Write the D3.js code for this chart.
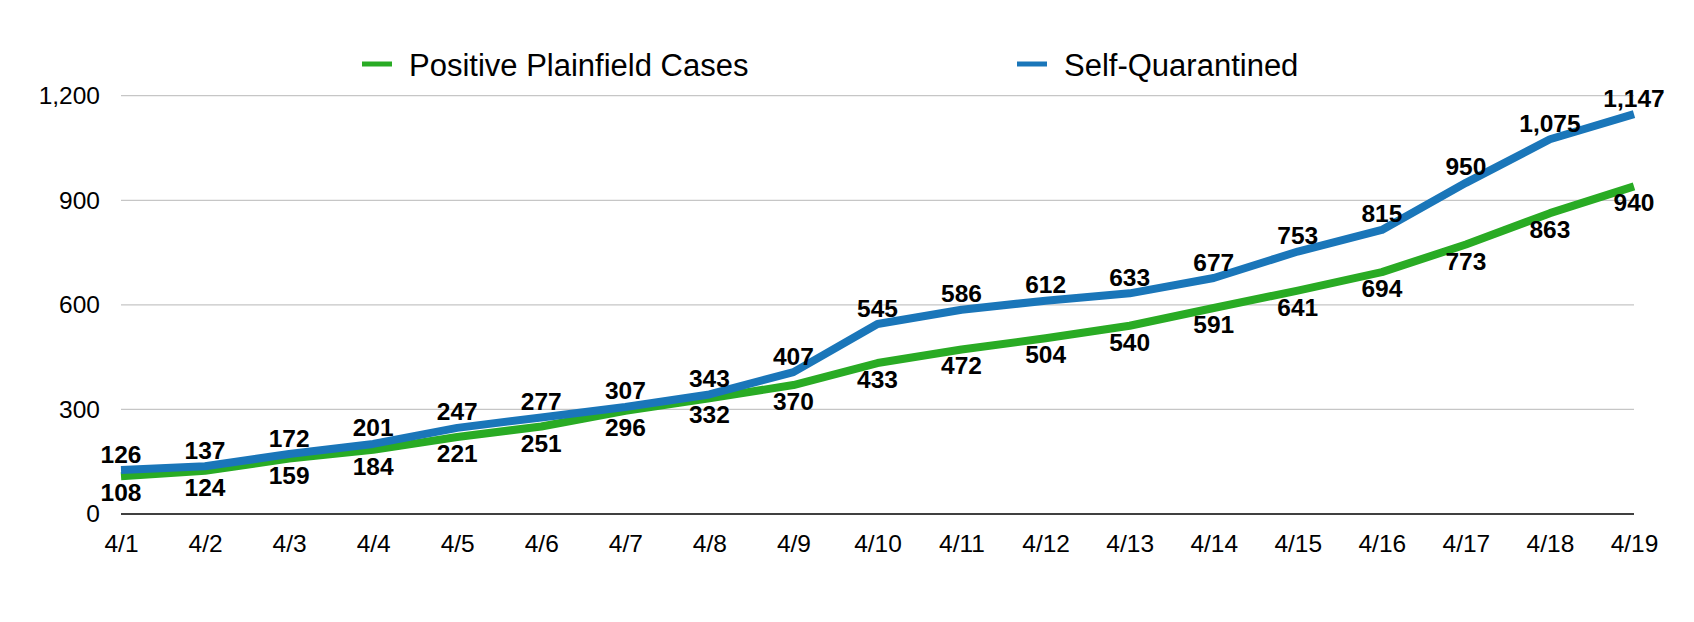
<!DOCTYPE html>
<html>
<head>
<meta charset="utf-8">
<script src="https://cdn.jsdelivr.net/npm/d3@7"></script>
<style>
  html, body { margin: 0; padding: 0; background: #fff; }
  svg { display: block; font-family: Helvetica, "Liberation Sans", Arial, sans-serif; }
</style>
</head>
<body>
<svg id="chart" width="1694" height="622"></svg>
<script>
const dates = ["4/1","4/2","4/3","4/4","4/5","4/6","4/7","4/8","4/9","4/10","4/11","4/12","4/13","4/14","4/15","4/16","4/17","4/18","4/19"];
const positiveCases = [108,124,159,184,221,251,296,332,370,433,472,504,540,591,641,694,773,863,940];
const selfQuarantined = [126,137,172,201,247,277,307,343,407,545,586,612,633,677,753,815,950,1075,1147];
const yTicks = [0,300,600,900,1200];
const seriesNames = ["Positive Plainfield Cases","Self-Quarantined"];
const seriesColors = ["#29ab24","#1a76b9"];

(function () {
const svg = d3.select("#chart");
const plotLeft = 121, plotRight = 1634, plotTop = 95.7, plotBottom = 514;

const x = d3.scalePoint().domain(dates).range([plotLeft, plotRight]).padding(0);
const y = d3.scaleLinear().domain([0, 1200]).range([plotBottom, plotTop]);
const fmt = d3.format(",");
const ff = "Helvetica, 'Liberation Sans', Arial, sans-serif";

// gridlines
svg.append("g").selectAll("line").data(yTicks.filter(d => d !== 0)).join("line")
  .attr("x1", plotLeft).attr("x2", plotRight)
  .attr("y1", d => y(d)).attr("y2", d => y(d))
  .attr("stroke", "#c6c6c6").attr("stroke-width", 1.2);

// y axis labels
const yAxis = d3.axisLeft(y).tickValues(yTicks).tickFormat(fmt).tickSize(0).tickPadding(0);
const gy = svg.append("g").attr("transform", "translate(100,0)").call(yAxis);
gy.select(".domain").remove();
gy.selectAll("text").attr("font-size", 24.5).attr("fill", "#000").attr("font-family", ff);

// x axis
const xAxis = d3.axisBottom(x).tickSize(0).tickPadding(0);
const gx = svg.append("g").attr("transform", `translate(0,${plotBottom})`).call(xAxis);
gx.select(".domain").remove();
gx.selectAll("text").attr("font-size", 24.5).attr("fill", "#000").attr("dy", null).attr("y", 38)
  .attr("font-family", ff);

// zero baseline
svg.append("line").attr("x1", plotLeft).attr("x2", plotRight).attr("y1", y(0)).attr("y2", y(0))
  .attr("stroke", "#000").attr("stroke-width", 1.5);

const line = d3.line().x((d, i) => x(dates[i])).y(d => y(d));
const allSeries = [positiveCases, selfQuarantined];

allSeries.forEach((s, k) => {
  svg.append("path").datum(s).attr("d", line)
    .attr("fill", "none").attr("stroke", seriesColors[k]).attr("stroke-width", 8)
    .attr("stroke-linejoin", "round").attr("stroke-linecap", "butt");
});

// data labels
svg.append("g").selectAll("text").data(positiveCases).join("text")
  .attr("x", (d, i) => x(dates[i])).attr("y", d => y(d) + 25)
  .attr("text-anchor", "middle").attr("font-size", 24.5).attr("font-weight", "bold")
  .text(d => fmt(d));
svg.append("g").selectAll("text").data(selfQuarantined).join("text")
  .attr("x", (d, i) => x(dates[i])).attr("y", d => y(d) - 7.5)
  .attr("text-anchor", "middle").attr("font-size", 24.5).attr("font-weight", "bold")
  .text(d => fmt(d));

// legend
const legendX = [362, 1017];
const lg = svg.append("g").selectAll("g").data(seriesNames).join("g")
  .attr("transform", (d, i) => `translate(${legendX[i]},64)`);
lg.append("line").attr("x1", 0).attr("x2", 30).attr("y1", 0).attr("y2", 0)
  .attr("stroke", (d, i) => seriesColors[i]).attr("stroke-width", 5);
lg.append("text").attr("x", 47).attr("y", 12).attr("font-size", 31).text(d => d);
})();
</script>
</body>
</html>
